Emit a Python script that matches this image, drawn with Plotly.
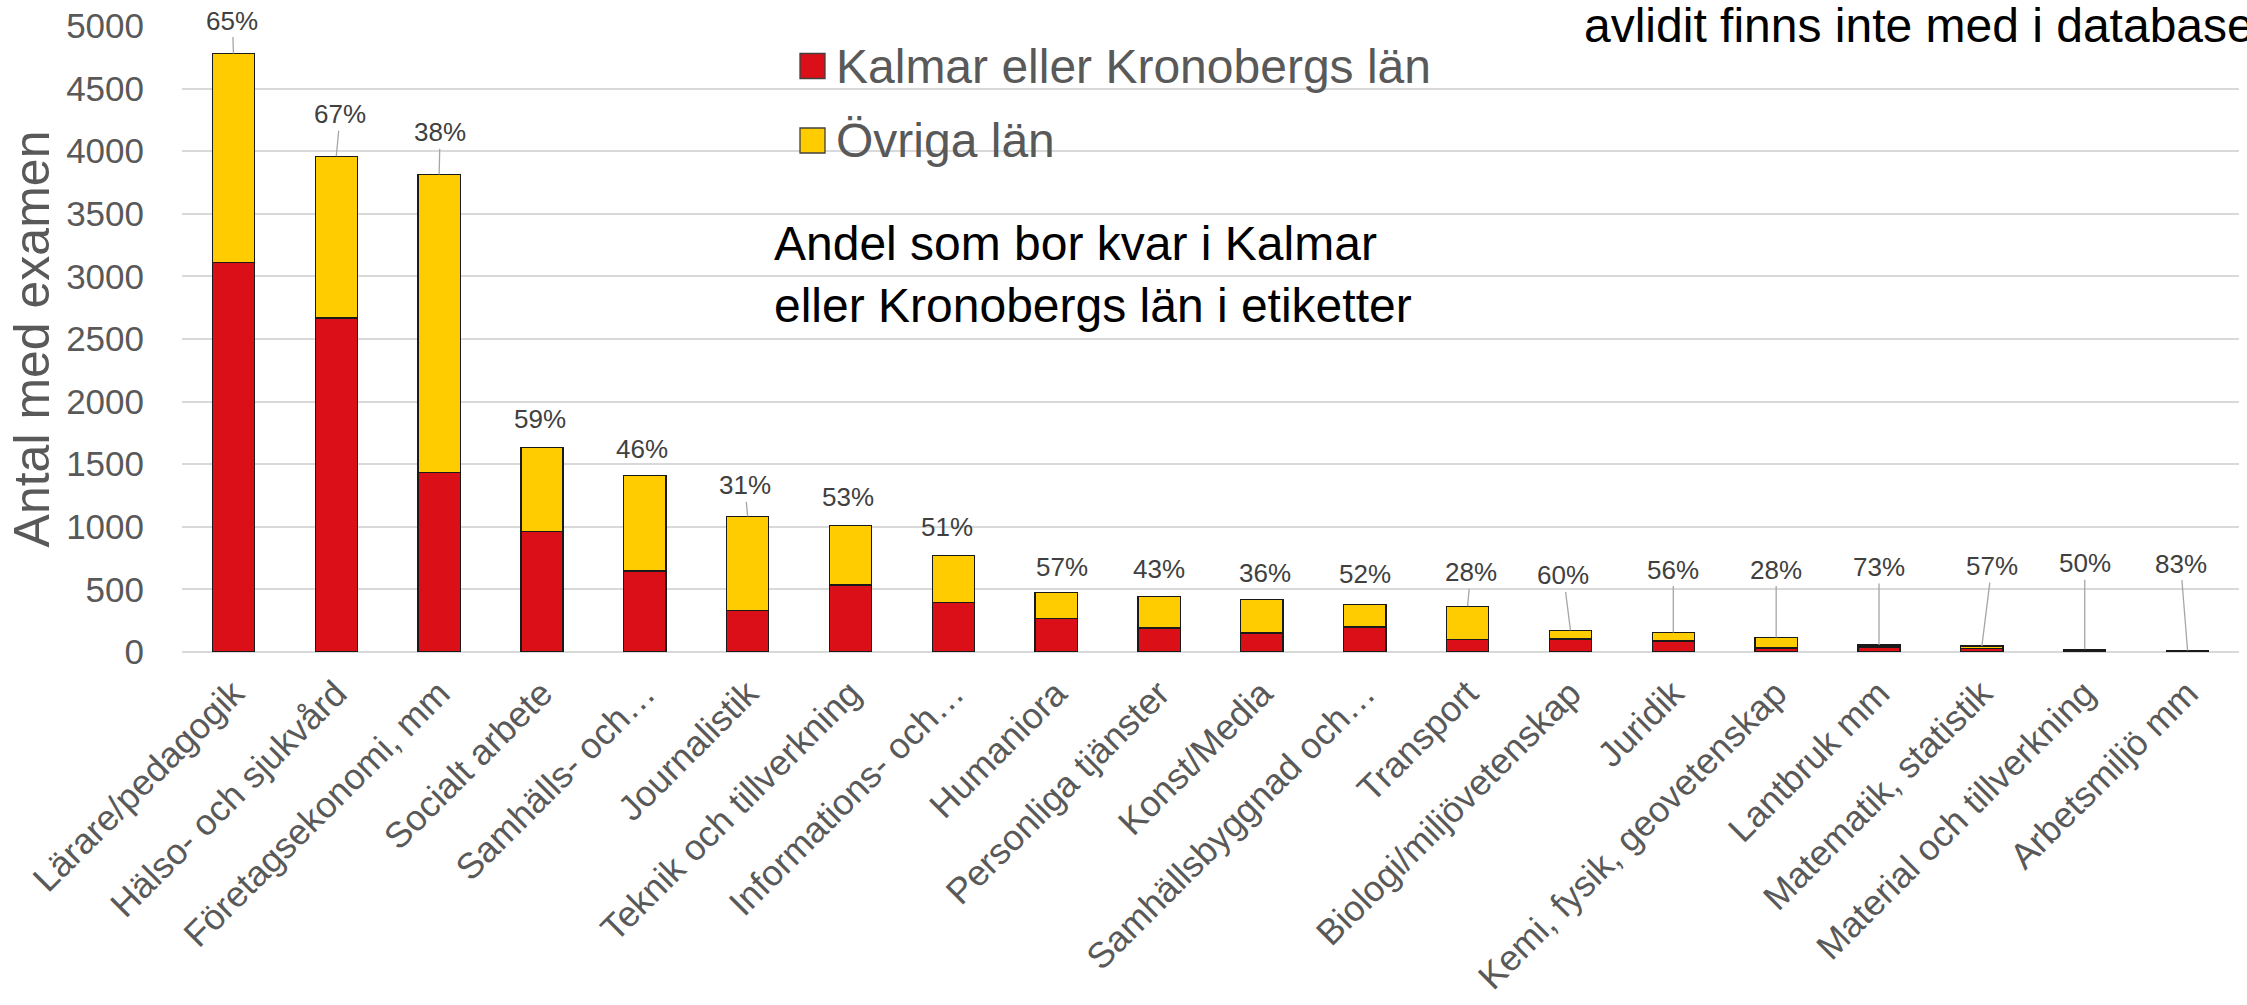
import plotly.graph_objects as go

# ---- data ----
kategorier = [
    "Lärare/pedagogik", "Hälso- och sjukvård", "Företagsekonomi, mm", "Socialt arbete",
    "Samhälls- och…", "Journalistik", "Teknik och tillverkning", "Informations- och…",
    "Humaniora", "Personliga tjänster", "Konst/Media", "Samhällsbyggnad och…",
    "Transport", "Biologi/miljövetenskap", "Juridik", "Kemi, fysik, geovetenskap",
    "Lantbruk mm", "Matematik, statistik", "Material och tillverkning", "Arbetsmiljö mm",
]
kalmar_kronoberg = [3113, 2667, 1436, 962, 647, 334, 534, 395, 270, 191,
                    152, 199, 102, 104, 87, 32, 40, 27, 11, 10]
ovriga_lan = [1667, 1293, 2379, 673, 764, 749, 475, 375, 203, 254,
              270, 183, 263, 69, 68, 83, 15, 20, 11, 2]
andel_kvar = ["65%", "67%", "38%", "59%", "46%", "31%", "53%", "51%", "57%", "43%",
              "36%", "52%", "28%", "60%", "56%", "28%", "73%", "57%", "50%", "83%"]
y_ticks = [0, 500, 1000, 1500, 2000, 2500, 3000, 3500, 4000, 4500, 5000]

# ---- label placement (pixel offsets from bar top) ----
label_dx = [-1, 4, 1, -2, -3, -3, -3, -6, 6, 0, 3, 0, 3, -7, 0, 0, 0, 10, 0, -7]
label_dy = [-33, -42, -42, -28, -26, -31, -29, -29, -26, -27, -26, -30, -34, -55, -63, -68, -78, -80, -86, -87]
leader = [1, 1, 1, 0, 0, 1, 0, 0, 0, 0, 0, 0, 1, 1, 1, 1, 1, 1, 1, 1]

RED = "#DA0F17"
YELLOW = "#FFCC00"
GREY_TXT = "#595959"
FONT = "Arial, 'Liberation Sans', sans-serif"

W, H = 2247, 1005
ML, MR, MT, MB = 182, 8, 26, 353
PW, PH = W - ML - MR, H - MT - MB


def px(x):
    return (x - ML) / PW


def py(y):
    return (H - MB - y) / PH


fig = go.Figure()
fig.add_trace(go.Bar(
    x=kategorier, y=kalmar_kronoberg, name="Kalmar eller Kronobergs län",
    marker=dict(color=RED, line=dict(color="#1A1A1A", width=1.3)), showlegend=False,
))
fig.add_trace(go.Bar(
    x=kategorier, y=ovriga_lan, name="Övriga län",
    marker=dict(color=YELLOW, line=dict(color="#1A1A1A", width=1.3)), showlegend=False,
))

annotations = []
for i, cat in enumerate(kategorier):
    total = kalmar_kronoberg[i] + ovriga_lan[i]
    if leader[i]:
        annotations.append(dict(
            x=cat, y=total, xref="x", yref="y", text=andel_kvar[i],
            showarrow=True, arrowhead=0, arrowwidth=1.3, arrowcolor="#A6A6A6",
            ax=label_dx[i], ay=label_dy[i], standoff=0, startstandoff=0,
            font=dict(family=FONT, size=26, color="#404040"),
        ))
    else:
        annotations.append(dict(
            x=cat, y=total, xref="x", yref="y", text=andel_kvar[i],
            showarrow=False, xshift=label_dx[i], yshift=-label_dy[i],
            xanchor="center", yanchor="middle",
            font=dict(family=FONT, size=26, color="#404040"),
        ))

# legend (drawn manually to match large swatches)
leg_items = [("Kalmar eller Kronobergs län", RED, 66), ("Övriga län", YELLOW, 140.5)]
shapes = []
for name, col, yc in leg_items:
    shapes.append(dict(type="rect", xref="paper", yref="paper",
                       x0=px(800), x1=px(825), y0=py(yc + 12.5), y1=py(yc - 12.5),
                       fillcolor=col, line=dict(color="#404040", width=1.3)))
    annotations.append(dict(x=px(834), y=py(yc), xref="paper", yref="paper", text=name,
                            showarrow=False, xanchor="left", yanchor="middle",
                            font=dict(family=FONT, size=48, color=GREY_TXT)))

annotations.append(dict(
    x=px(772), y=py(274), xref="paper", yref="paper",
    text="Andel som bor kvar i Kalmar<br>eller Kronobergs län i etiketter",
    showarrow=False, xanchor="left", yanchor="middle", align="left",
    font=dict(family=FONT, size=48, color="#000000"),
))
annotations.append(dict(
    x=px(1582), y=py(25), xref="paper", yref="paper",
    text="avlidit finns inte med i databasen",
    showarrow=False, xanchor="left", yanchor="middle", align="left",
    font=dict(family=FONT, size=48, color="#000000"),
))

fig.update_layout(
    width=W, height=H,
    margin=dict(l=ML, r=MR, t=MT, b=MB, autoexpand=False),
    paper_bgcolor="white", plot_bgcolor="white",
    barmode="stack", bargap=0.59,
    font=dict(family=FONT, color=GREY_TXT),
    annotations=annotations, shapes=shapes,
    showlegend=False,
)
fig.update_xaxes(
    tickangle=-45, tickfont=dict(size=36, color=GREY_TXT, family=FONT),
    showline=False, showgrid=False, ticks="", automargin=False,
    ticklabelstandoff=12,
)
fig.update_yaxes(
    range=[0, 5000], tickvals=y_ticks, ticktext=[str(v) for v in y_ticks],
    tickfont=dict(size=35, color=GREY_TXT, family=FONT),
    showgrid=True, gridcolor="#D9D9D9", gridwidth=1.6,
    zeroline=True, zerolinecolor="#D9D9D9", zerolinewidth=1.6,
    showline=False, ticks="", ticklabelstandoff=37, automargin=False,
    title=dict(text="Antal med examen", font=dict(size=50, color=GREY_TXT, family=FONT), standoff=0),
)

fig.write_html(
    "out.html",
    config={"displayModeBar": False},
    post_script="document.body.style.margin='0';document.body.style.overflow='hidden';",
)
